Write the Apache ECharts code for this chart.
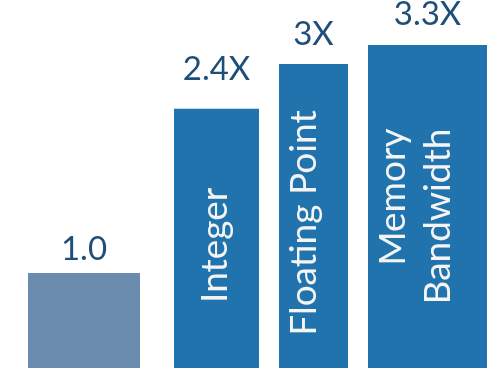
<!DOCTYPE html>
<html>
<head>
<meta charset="utf-8">
<script src="https://cdn.jsdelivr.net/npm/echarts@6/dist/echarts.min.js"></script>
<style>
  html, body { margin: 0; padding: 0; background: #fff; }
  #chart { width: 487px; height: 368px; }
</style>
</head>
<body>
<div id="chart"></div>
<script>
// bar heights, relative to the 1.0 baseline bar
const values = [1.0, 2.73, 3.2, 3.4]
const valueLabels = ['1.0', '2.4X', '3X', '3.3X']
const categories = ['', 'Integer', 'Floating Point', 'Memory\nBandwidth']

const colors = ['#6a8aae', '#2173ad', '#2173ad', '#2173ad']
// each bar sits in its own grid so the uneven widths/gaps can be matched
const slots = [
  { left: 28, width: 112 },
  { left: 174, width: 85 },
  { left: 279, width: 69 },
  { left: 368, width: 125 }
]
const topDist = [7, 23, 13, 14]
// offsets are in the rotated label frame: [-down, right]
const innerOffset = [[0, 0], [-7, -1], [-7, -9], [78, -12]]
const innerAlign = ['center', 'center', 'center', 'right']

const chart = echarts.init(document.getElementById('chart'))

const grid = slots.map(s => ({ left: s.left, width: s.width, top: 0, bottom: 0 }))
const xAxis = slots.map((s, i) => ({
  type: 'category', gridIndex: i, data: [categories[i]], show: false
}))
const yAxis = slots.map((s, i) => ({
  type: 'value', gridIndex: i, min: 0, max: 3.874, show: false
}))

const series = []
values.forEach((v, i) => {
  series.push({
    type: 'bar',
    xAxisIndex: i,
    yAxisIndex: i,
    barWidth: '100%',
    data: [v],
    itemStyle: { color: colors[i] },
    label: {
      show: categories[i] !== '',
      position: 'inside',
      rotate: 90,
      align: innerAlign[i],
      offset: innerOffset[i],
      formatter: () => categories[i],
      color: '#f4f4f4',
      fontFamily: 'Lato',
      fontSize: 37,
      lineHeight: 45
    },
    silent: true,
    animation: false
  })
  series.push({
    type: 'bar',
    xAxisIndex: i,
    yAxisIndex: i,
    barWidth: '100%',
    barGap: '-100%',
    data: [v],
    itemStyle: { color: 'transparent' },
    label: {
      show: true,
      position: 'top',
      distance: topDist[i],
      formatter: () => valueLabels[i],
      color: '#1f4e79',
      fontFamily: 'Lato',
      fontSize: 33
    },
    silent: true,
    animation: false
  })
})

chart.setOption({
  animation: false,
  grid: grid,
  xAxis: xAxis,
  yAxis: yAxis,
  series: series
})
</script>
</body>
</html>
